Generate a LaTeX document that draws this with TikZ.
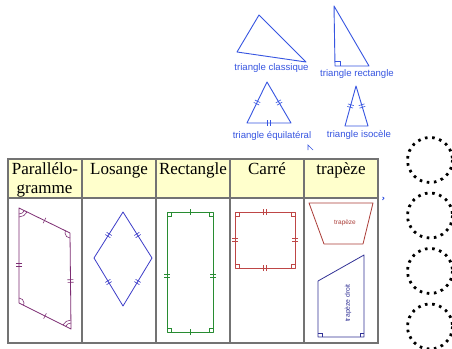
\documentclass[tikz,border=0pt]{standalone}
\usepackage{fontspec}
\setmainfont{Liberation Serif}
\setsansfont{Liberation Sans}
\usetikzlibrary{decorations.markings}
\definecolor{triblue}{RGB}{55,85,225}
\definecolor{hdrfill}{RGB}{255,255,204}
\definecolor{gridgray}{RGB}{115,115,115}
\definecolor{parcol}{RGB}{125,45,115}
\definecolor{loscol}{RGB}{60,60,200}
\definecolor{reccol}{RGB}{40,140,50}
\definecolor{carcol}{RGB}{190,70,70}
\definecolor{trapcol}{RGB}{170,60,55}
\definecolor{tdcol}{RGB}{50,50,150}
\begin{document}
\begin{tikzpicture}[x=1pt,y=-1pt,
  tkone/.style={postaction={decorate},decoration={markings,mark=at position #1 with {\draw[line width=0.6pt] (0,-3)--(0,3);}}},
  tkone/.default=0.5,
  tktwo/.style={postaction={decorate},decoration={markings,mark=at position #1 with {\draw[line width=0.6pt] (-1.3,-3)--(-1.3,3) (1.3,-3)--(1.3,3);}}},
  tktwo/.default=0.5,
  hdr/.style={anchor=base,inner sep=0pt,font=\fontsize{17}{19}\selectfont},
  trilab/.style={anchor=base,inner sep=0pt,text=triblue,font=\sffamily\fontsize{9.6}{11}\selectfont},
  tri/.style={color=triblue,line width=0.9pt,line join=round},
  shp/.style={line width=0.8pt,line join=round},
  dcirc/.style={draw=black,line width=2.8pt,dash pattern=on 2.6pt off 4.6pt},
  grid/.style={draw=gridgray,line width=1.2pt}
]
\useasboundingbox (0,0) rectangle (452,348);
\fill[white] (0,0) rectangle (452,348);

% ---------- triangles ----------
\coordinate (c1) at (259,15); \coordinate (c2) at (237,52); \coordinate (c3) at (306,62);
\draw[tri] (c1)--(c2)--(c3)--cycle;
\node[trilab] (lc) at (271.5,70) {triangle classique};

\coordinate (r1) at (334,6); \coordinate (r2) at (335,66); \coordinate (r3) at (369,66);
\draw[tri] (r1)--(r2)--(r3)--cycle;
\draw[color=triblue,line width=0.6pt] (335,61)--(340,61)--(340,66);
\node[trilab] (lr) at (357,76) {triangle rectangle};

\coordinate (e1) at (267,82); \coordinate (e2) at (247,123); \coordinate (e3) at (291,123);
\draw[tri] (e1)--(e2)--(e3)--cycle;
\path[color=triblue,tktwo] (e1)--(e2);
\path[color=triblue,tktwo] (e1)--(e3);
\path[color=triblue,tktwo] (e2)--(e3);
\node[trilab] (le) at (272,138) {triangle équilatéral};

\coordinate (i1) at (356,86); \coordinate (i2) at (345,126); \coordinate (i3) at (368,126);
\draw[tri] (i1)--(i2)--(i3)--cycle;
\path[color=triblue,tktwo] (i1)--(i2);
\path[color=triblue,tktwo] (i1)--(i3);
\node[trilab] (li) at (359,137) {triangle isocèle};

% small stray marks
\draw[color=triblue,line width=0.7pt] (308,150)--(308,145)--(313,150);
\draw[color=triblue,line width=0.8pt] (382.5,197) .. controls (384.5,198) .. (382.5,200);

% ---------- table ----------
\fill[hdrfill] (8,159) rectangle (378,198);
\fill[white] (8,198) rectangle (378,343);
\draw[grid] (8,159) rectangle (378,343);
\draw[grid] (8,198)--(378,198);
\foreach \xx in {82,156,230,304} \draw[grid] (\xx,159)--(\xx,343);

\node[hdr] (h1) at (45,174) {Parallélo-};
\node[hdr] (h1b) at (44.5,193) {gramme};
\node[hdr] (h2) at (119,174) {Losange};
\node[hdr] (h3) at (193,174) {Rectangle};
\node[hdr] (h4) at (267,174) {Carré};
\node[hdr] (h5) at (341,174) {trapèze};

% parallelogram
\coordinate (p1) at (19,208); \coordinate (p2) at (70,233);
\coordinate (p3) at (71,329); \coordinate (p4) at (19,303);
\begin{scope}[color=parcol]
\draw[shp] (p1)--(p2)--(p3)--(p4)--cycle;
\path[tkone] (p1)--(p2);
\path[tkone] (p3)--(p4);
\path[tktwo=0.6] (p1)--(p4);
\path[tktwo] (p2)--(p3);
\draw[line width=0.6pt] ([shift={(26:6)}]p1) arc (26:90:6);
\draw[line width=0.6pt] ([shift={(26:9)}]p1) arc (26:90:9);
\draw[line width=0.6pt] ([shift={(90:5)}]p2) arc (90:206:5);
\draw[line width=0.6pt] ([shift={(-90:5)}]p4) arc (-90:27:5);
\draw[line width=0.6pt] ([shift={(207:6)}]p3) arc (207:270:6);
\draw[line width=0.6pt] ([shift={(207:9)}]p3) arc (207:270:9);
\end{scope}

% rhombus
\coordinate (l1) at (123,212); \coordinate (l2) at (152,258);
\coordinate (l3) at (123,306); \coordinate (l4) at (94,258);
\begin{scope}[color=loscol]
\draw[shp] (l1)--(l2)--(l3)--(l4)--cycle;
\path[tktwo] (l1)--(l2);
\path[tktwo] (l2)--(l3);
\path[tktwo] (l3)--(l4);
\path[tktwo] (l4)--(l1);
\end{scope}

% rectangle
\coordinate (q1) at (167,212); \coordinate (q2) at (213,212);
\coordinate (q3) at (213,332); \coordinate (q4) at (167,332);
\begin{scope}[color=reccol]
\draw[shp] (q1)--(q2)--(q3)--(q4)--cycle;
\path[tkone] (q1)--(q2);
\path[tkone] (q3)--(q4);
\path[tktwo=0.47] (q4)--(q1);
\path[tktwo=0.53] (q2)--(q3);
\draw[line width=0.6pt] (167,216)--(171,216)--(171,212);
\draw[line width=0.6pt] (213,216)--(209,216)--(209,212);
\draw[line width=0.6pt] (167,328)--(171,328)--(171,332);
\draw[line width=0.6pt] (213,328)--(209,328)--(209,332);
\end{scope}

% square
\coordinate (s1) at (235,212); \coordinate (s2) at (295,212);
\coordinate (s3) at (295,268); \coordinate (s4) at (235,268);
\begin{scope}[color=carcol]
\draw[shp] (s1)--(s2)--(s3)--(s4)--cycle;
\path[tktwo] (s1)--(s2);
\path[tktwo] (s2)--(s3);
\path[tktwo] (s3)--(s4);
\path[tktwo] (s4)--(s1);
\draw[line width=0.6pt] (235,216)--(239,216)--(239,212);
\draw[line width=0.6pt] (295,216)--(291,216)--(291,212);
\draw[line width=0.6pt] (235,264)--(239,264)--(239,268);
\draw[line width=0.6pt] (295,264)--(291,264)--(291,268);
\end{scope}

% trapeze
\coordinate (t1) at (309,203); \coordinate (t2) at (373,203);
\coordinate (t3) at (363,244); \coordinate (t4) at (324,244);
\draw[shp,color=trapcol] (t1)--(t2)--(t3)--(t4)--cycle;
\node[inner sep=0pt,text=trapcol,font=\sffamily\fontsize{6.5}{7}\selectfont] (tl) at (345,223) {trapèze};

% trapeze droit
\coordinate (d1) at (318,281); \coordinate (d2) at (364,255);
\coordinate (d3) at (364,337); \coordinate (d4) at (318,337);
\begin{scope}[color=tdcol]
\draw[shp] (d1)--(d2)--(d3)--(d4)--cycle;
\draw[line width=0.6pt] (318,333)--(322,333)--(322,337);
\draw[line width=0.6pt] (364,333)--(360,333)--(360,337);
\end{scope}
\node[inner sep=0pt,text=tdcol,rotate=90,font=\sffamily\fontsize{6.8}{7}\selectfont] (dl) at (348,303) {trapèze droit};

% dotted circles
\foreach \yy [count=\k] in {160,215.5,271,326.5}
  \draw[dcirc] (430,\yy) circle[radius=22.5];
\end{tikzpicture}
\end{document}
